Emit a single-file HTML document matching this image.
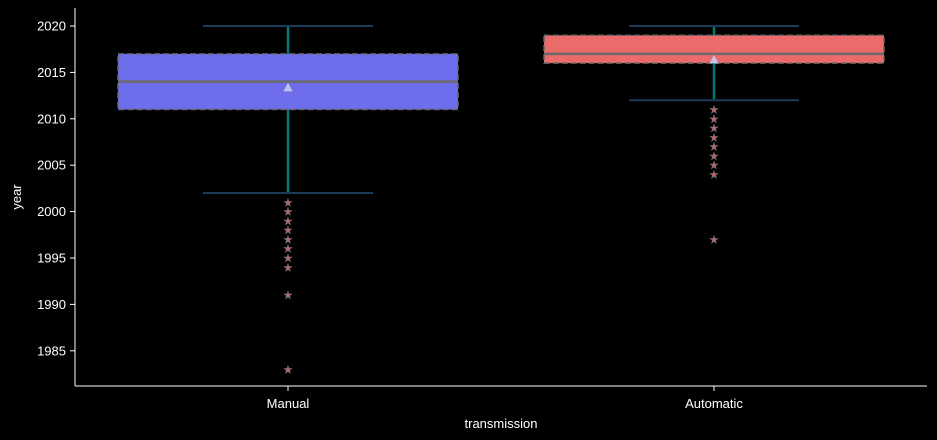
<!DOCTYPE html>
<html><head><meta charset="utf-8"><style>
html,body{margin:0;padding:0;background:#000;}
svg{display:block;font-family:"Liberation Sans","DejaVu Sans",sans-serif;}
</style></head><body>
<svg id="chart" width="937" height="440" viewBox="0 0 937 440">
<rect width="937" height="440" fill="#000"/>
<g id="plot"></g>
<line x1="75" y1="8" x2="75" y2="386" stroke="#fff" stroke-width="1"/>
<line x1="75" y1="386" x2="927" y2="386" stroke="#fff" stroke-width="1"/>
<g id="axes"></g>
<text x="501" y="428" fill="#fff" font-size="13" text-anchor="middle">transmission</text>
<text x="21" y="197" fill="#fff" font-size="13" text-anchor="middle" transform="rotate(-90 21 197)">year</text>
</svg>
<script>
const categories = ["Manual", "Automatic"];
const q1Values = [2011, 2016];
const q3Values = [2017, 2019];
const medianValues = [2014, 2017];
const meanValues = [2013.4, 2016.4];
const whiskerLow = [2002, 2012];
const whiskerHigh = [2020, 2020];
const outliersManual = [2001, 2000, 1999, 1998, 1997, 1996, 1995, 1994, 1991, 1983];
const outliersAutomatic = [2011, 2010, 2009, 2008, 2007, 2006, 2005, 2004, 1997];
const yTicks = [1985, 1990, 1995, 2000, 2005, 2010, 2015, 2020];
const fills = ["#6e6eec", "#eb6b6b"];

const NS = "http://www.w3.org/2000/svg";
function y(v){ return 26 + (2020 - v) * 9.28; }
function x(i){ return 288 + i * 426; }
const halfW = 170, capW = 85;
function mk(tag, attrs, parent){ const e = document.createElementNS(NS, tag); for (const k in attrs) e.setAttribute(k, attrs[k]); parent.appendChild(e); return e; }
const plot = document.getElementById("plot");
const axes = document.getElementById("axes");
const outliers = [outliersManual, outliersAutomatic];

categories.forEach((c, i) => {
  const cx = x(i);
  let e;
  e = mk("line", {x1: cx, x2: cx, y1: y(whiskerHigh[i]), y2: y(q3Values[i]), stroke: "#007878", "stroke-width": 2.5}, plot);
  
  
  e = mk("line", {x1: cx, x2: cx, y1: y(q1Values[i]), y2: y(whiskerLow[i]), stroke: "#007878", "stroke-width": 2.5}, plot);
  
  
  e = mk("line", {x1: cx - capW, x2: cx + capW, y1: y(whiskerHigh[i]), y2: y(whiskerHigh[i]), stroke: "#1c3a5a", "stroke-width": 2}, plot);
  
  
  e = mk("line", {x1: cx - capW, x2: cx + capW, y1: y(whiskerLow[i]), y2: y(whiskerLow[i]), stroke: "#1c3a5a", "stroke-width": 2}, plot);
  
  
  e = mk("rect", {x: cx - halfW, y: y(q3Values[i]), width: 2 * halfW, height: y(q1Values[i]) - y(q3Values[i]), fill: fills[i], stroke: "#666", "stroke-width": 1.5, "stroke-dasharray": "6,3"}, plot);
  
  
  e = mk("line", {x1: cx - halfW, x2: cx + halfW, y1: y(medianValues[i]), y2: y(medianValues[i]), stroke: "#6a6a6a", "stroke-width": 2.5}, plot);
  
  
  const my = y(meanValues[i]);
  e = mk("polygon", {points: `${cx-4.5},${my+4} ${cx+4.5},${my+4} ${cx},${my-4.5}`, fill: "#c4c4e8"}, plot);
  
  
  outliers[i].forEach(v => {
    const o = mk("text", {x: cx, y: y(v) + 3.5, "text-anchor": "middle", "font-size": 10, fill: "#c86060", stroke: "#777", "stroke-width": 0.6}, plot);
    o.textContent = "★";
    
    
  });
  const t = mk("text", {x: cx, y: 408, "text-anchor": "middle", "font-size": 13, fill: "#fff"}, axes);
  t.textContent = c;
  
  
  const tk = mk("line", {x1: cx, x2: cx, y1: 386, y2: 391, stroke: "#fff"}, axes);
  
  
});

yTicks.forEach(v => {
  const tk = mk("line", {x1: 70, x2: 75, y1: y(v), y2: y(v), stroke: "#fff"}, axes);
  
  
  const t = mk("text", {x: 66, y: y(v) + 4.5, "text-anchor": "end", "font-size": 13, fill: "#fff"}, axes);
  t.textContent = v;
  
  
});
</script>
</body></html>
